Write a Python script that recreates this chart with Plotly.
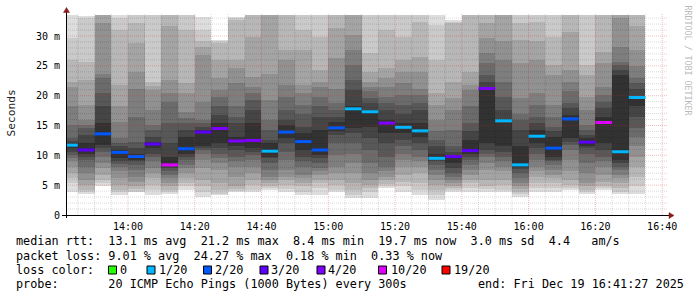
import plotly.graph_objects as go
import pandas as pd

# ---------------- data ----------------
sample_end = pd.date_range("2025-12-19 13:45:00", periods=35, freq="5min")
x_range = ["2025-12-19 13:41:27", "2025-12-19 16:41:27"]

median_ms = [11.7, 10.9, 13.6, 10.5, 9.8, 11.9, 8.4, 11.1, 13.9, 14.5,
             12.4, 12.5, 10.7, 13.9, 12.3, 10.9, 14.6, 17.8, 17.3, 15.4,
             14.7, 14.1, 9.5, 9.8, 10.8, 21.2, 15.8, 8.4, 13.2, 11.2,
             16.1, 12.2, 15.5, 10.6, 19.7]

loss_count = [1, 3, 2, 2, 2, 3, 10, 2, 3, 4,
              4, 4, 1, 2, 2, 2, 2, 1, 1, 4,
              1, 1, 1, 3, 3, 4, 1, 1, 1, 2,
              2, 3, 10, 1, 1]

# 20 sorted ping round-trip times (ms) per 5-minute sample
pings_ms = [
    [3.9, 5.3, 6.2, 7.0, 8.1, 9.0, 9.5, 10.1, 10.6, 11.2, 11.9, 12.4, 12.9, 15.1, 18.2, 21.5, 22.3, 26.0, 29.6, 40],
    [3.6, 3.9, 4.2, 5.0, 5.9, 7.0, 8.1, 9.2, 9.8, 10.2, 12.0, 13.4, 14.5, 15.1, 15.9, 18.4, 22.6, 25.7, 33.0, 33.3],
    [4.8, 5.3, 5.9, 6.7, 7.8, 8.7, 9.8, 10.6, 11.2, 11.7, 15.4, 18.2, 20.4, 22.9, 23.7, 32.1, 36, 38, 40, 42],
    [3.4, 3.8, 4.2, 5.0, 6.2, 7.3, 8.1, 8.5, 9.0, 9.5, 10.9, 11.5, 12.0, 12.9, 15.6, 18.2, 21.8, 31.0, 33.0, 40],
    [3.8, 3.9, 4.3, 4.8, 5.6, 6.4, 7.5, 8.4, 9.0, 9.3, 10.3, 11.2, 12.3, 16.5, 21.2, 24.0, 28.8, 32.1, 36, 40],
    [3.4, 4.2, 5.0, 6.2, 7.0, 7.8, 9.0, 9.8, 10.3, 11.2, 12.3, 13.1, 14.3, 15.1, 17.6, 20.9, 21.6, 22.3, 38, 40],
    [3.5, 3.8, 4.2, 4.8, 5.3, 6.2, 6.7, 7.3, 7.8, 8.2, 9.8, 12.0, 15.4, 19.0, 20.4, 22.6, 31.6, 38, 40, 42],
    [4.2, 4.8, 5.3, 6.2, 7.0, 7.8, 8.4, 9.2, 9.8, 10.3, 13.1, 14.3, 15.4, 16.2, 17.3, 20.4, 22.1, 31.0, 38, 40],
    [3.1, 3.9, 4.8, 5.9, 7.8, 9.2, 10.3, 10.9, 11.2, 11.5, 14.3, 14.8, 15.4, 15.9, 19.0, 26.8, 28.2, 29.1, 31.0, 33.2],
    [3.4, 3.6, 4.2, 5.3, 7.5, 8.7, 9.5, 10.3, 11.2, 12.0, 15.4, 16.8, 18.2, 19.8, 21.0, 22.9, 26.0, 28.8, 29.1, 29.3],
    [3.9, 4.1, 4.3, 4.8, 6.4, 8.1, 9.0, 9.8, 10.9, 11.5, 13.1, 15.4, 16.5, 18.2, 22.1, 24.6, 26.0, 32.7, 33.0, 33.2],
    [3.8, 4.2, 5.0, 5.9, 7.0, 8.1, 9.2, 10.1, 10.6, 11.2, 15.4, 17.6, 19.3, 20.4, 21.5, 23.2, 29.9, 36, 38, 40],
    [4.2, 4.5, 4.9, 5.3, 5.9, 6.4, 7.5, 8.7, 9.5, 9.8, 12.0, 12.6, 14.3, 15.9, 19.3, 23.7, 36, 38, 40, 42],
    [3.9, 4.3, 5.0, 5.9, 6.4, 7.5, 9.2, 10.6, 12.0, 12.9, 15.1, 15.9, 17.6, 19.8, 21.8, 26.0, 27.7, 38, 40, 42],
    [3.4, 3.9, 4.8, 5.3, 6.2, 6.7, 8.1, 9.0, 9.8, 10.9, 13.7, 14.8, 17.0, 18.4, 20.4, 21.8, 27.7, 31.0, 38, 40],
    [3.4, 4.5, 5.3, 5.9, 6.7, 7.3, 7.8, 8.7, 9.5, 10.1, 14.3, 16.5, 18.2, 19.8, 21.5, 22.3, 24.3, 29.9, 38, 40],
    [3.9, 4.2, 5.0, 5.9, 7.0, 8.1, 10.1, 12.0, 13.4, 14.0, 15.6, 16.5, 17.6, 18.7, 21.2, 26.3, 31.3, 37, 39, 41],
    [2.8, 3.4, 4.2, 5.3, 7.0, 8.7, 10.3, 12.0, 13.7, 14.5, 18.2, 21.0, 22.6, 25.1, 27.7, 30.2, 36, 38, 40, 42],
    [2.8, 3.8, 4.5, 5.0, 5.9, 7.0, 8.7, 10.9, 12.9, 14.8, 17.6, 18.7, 19.6, 20.7, 21.5, 22.3, 24.0, 27.1, 38, 40],
    [4.5, 4.8, 5.2, 5.8, 6.4, 7.3, 8.1, 9.8, 12.0, 13.7, 15.9, 17.6, 18.7, 19.8, 21.5, 22.9, 24.6, 31.0, 38, 40],
    [3.9, 4.8, 5.6, 6.7, 8.1, 9.2, 10.3, 11.5, 12.6, 13.7, 15.4, 17.0, 18.4, 20.1, 22.1, 24.0, 26.0, 29.9, 38, 40],
    [3.4, 4.2, 5.3, 7.0, 8.1, 9.0, 9.8, 10.9, 12.0, 13.1, 15.4, 17.6, 18.7, 20.1, 21.2, 24.0, 26.5, 32.4, 38, 40],
    [2.5, 3.4, 4.2, 5.0, 5.9, 6.7, 7.5, 8.4, 9.0, 9.3, 10.3, 11.5, 12.6, 14.0, 15.9, 18.4, 20.4, 26.0, 31.8, 38],
    [3.9, 4.2, 4.5, 4.9, 5.3, 5.9, 6.4, 7.0, 7.8, 8.7, 9.9, 10.6, 11.5, 14.3, 17.6, 19.6, 22.3, 32.1, 32.4, 32.7],
    [3.9, 4.5, 5.3, 5.9, 6.7, 7.5, 8.4, 9.2, 9.8, 10.3, 12.6, 14.0, 15.4, 18.2, 21.0, 21.8, 24.0, 38, 40, 42],
    [3.9, 4.3, 4.8, 5.9, 7.5, 8.7, 9.8, 10.3, 10.9, 12.0, 21.5, 22.3, 23.5, 25.4, 27.1, 29.6, 32.1, 38, 40, 42],
    [3.8, 4.2, 5.0, 5.9, 7.3, 8.1, 9.0, 9.8, 10.6, 11.5, 15.4, 17.6, 19.8, 22.3, 26.0, 29.1, 37, 39, 41, 43],
    [3.1, 3.5, 3.9, 4.3, 4.8, 5.3, 6.2, 7.0, 7.7, 8.1, 11.5, 14.3, 15.9, 17.0, 19.6, 25.4, 29.3, 32.1, 38, 40],
    [3.8, 4.5, 5.3, 6.4, 7.3, 8.1, 9.2, 10.3, 11.2, 12.0, 14.3, 15.4, 16.5, 18.4, 20.4, 26.0, 29.1, 32.4, 38, 40],
    [3.9, 4.5, 5.3, 6.2, 6.7, 7.5, 8.4, 9.0, 9.3, 9.8, 13.1, 14.0, 14.8, 16.5, 18.4, 23.5, 25.1, 29.9, 38, 40],
    [4.2, 4.5, 5.0, 5.9, 7.3, 9.2, 10.9, 11.7, 12.3, 12.9, 16.8, 17.9, 18.7, 20.7, 22.3, 24.3, 30.7, 38, 40, 42],
    [3.5, 3.8, 4.2, 4.8, 5.3, 7.0, 8.7, 10.3, 11.2, 11.6, 12.9, 13.4, 14.3, 15.1, 17.6, 19.8, 23.5, 25.1, 38, 40],
    [4.2, 4.5, 4.9, 5.6, 6.7, 8.1, 9.0, 9.8, 10.9, 12.0, 16.5, 17.9, 19.0, 20.1, 21.5, 25.4, 27.4, 38, 40, 42],
    [3.6, 3.9, 4.5, 5.3, 6.2, 6.7, 7.5, 8.1, 8.7, 9.2, 23.5, 24.3, 25.1, 25.7, 28.2, 33.0, 37, 39, 41, 43],
    [3.6, 4.8, 6.4, 8.1, 9.8, 11.5, 13.1, 14.5, 16.5, 18.2, 19.6, 21.2, 22.1, 22.9, 24.9, 27.7, 31.6, 38, 40, 42],
]

loss_levels = [0, 1, 2, 3, 4, 10, 19]
loss_colors = ["#26ff00", "#00b8ff", "#0059ff", "#5e00ff", "#7e00ff", "#dd00ff", "#ff0000"]
loss_labels = ["0", "1/20", "2/20", "3/20", "4/20", "10/20", "19/20"]

y_tick_vals = [0, 5, 10, 15, 20, 25, 30]
y_tick_text = ["0", "5 m", "10 m", "15 m", "20 m", "25 m", "30 m"]
y_max = 33.52

line_rtt = "median rtt:  13.1 ms avg  21.2 ms max  8.4 ms min  19.7 ms now  3.0 ms sd  4.4   am/s"
line_loss = "packet loss: 9.01 % avg  24.27 % max  0.18 % min  0.33 % now"
line_probe = "probe:       20 ICMP Echo Pings (1000 Bytes) every 300s"
line_end = "end: Fri Dec 19 16:41:27 2025"

# ---------------- geometry ----------------
W, H = 697, 297
L, R, T, B = 66, 667, 15, 215
PW, PH = R - L, B - T
MONO = "DejaVu Sans Mono"


def px(xp):
    return (xp - L) / PW


def py(yp):
    return (B - yp) / PH


def nb(s):
    return s.replace(" ", "\u00a0")


step = pd.Timedelta(minutes=5)
centers = sample_end - step / 2

fig = go.Figure()

# smoke: band i spans ping i .. ping (21-i), darker toward the middle
half = 10
for i in range(half):
    ibot = i + 1
    g = int(190 / half * (half - ibot)) + 50
    fig.add_bar(
        x=centers,
        base=[col[i] for col in pings_ms],
        y=[col[19 - i] - col[i] for col in pings_ms],
        width=300000,
        marker=dict(color=f"rgb({g},{g},{g})", line=dict(width=0)),
        hoverinfo="skip",
        showlegend=False,
    )

# median lines colored by packet loss
def loss_index(n):
    for k, lv in enumerate(loss_levels):
        if n <= lv:
            return k
    return len(loss_levels) - 1


for k, color in enumerate(loss_colors):
    xs, ys = [], []
    for t, m, n in zip(sample_end, median_ms, loss_count):
        if loss_index(n) == k:
            xs += [(t - step).strftime("%Y-%m-%d %H:%M:%S"), t.strftime("%Y-%m-%d %H:%M:%S"), None]
            ys += [m, m, None]
    if xs:
        fig.add_scatter(x=xs, y=ys, mode="lines", line=dict(color=color, width=3),
                        hoverinfo="skip", showlegend=False)

MAJOR_C = "rgba(210,40,40,0.30)"
MINOR_C = "rgba(0,0,0,0.15)"
shapes = []
# horizontal grid
for v in range(1, int(y_max) + 1):
    major = v % 5 == 0
    shapes.append(dict(type="line", xref="paper", yref="y", x0=0, x1=1, y0=v, y1=v, layer="above",
                       line=dict(color=MAJOR_C if major else MINOR_C, width=1, dash="1px,1px")))
# vertical grid
grid_t = pd.date_range("2025-12-19 13:45:00", "2025-12-19 16:40:00", freq="5min")
for t in grid_t:
    major = t.minute % 20 == 0
    shapes.append(dict(type="line", xref="x", yref="paper", x0=t, x1=t, y0=0, y1=1.01, layer="above",
                       line=dict(color=MAJOR_C if major else MINOR_C, width=1, dash="1px,1px")))
# axes lines and arrows
shapes.append(dict(type="line", xref="paper", yref="paper", x0=px(62), x1=px(670), y0=py(215.5), y1=py(215.5),
                   layer="above", line=dict(color="black", width=1)))
shapes.append(dict(type="line", xref="paper", yref="paper", x0=px(66.5), x1=px(66.5), y0=py(218), y1=py(12),
                   layer="above", line=dict(color="black", width=1)))
arrow_c = "#8b1a1a"
shapes.append(dict(type="path", xref="paper", yref="paper", layer="above",
                   path=f"M {px(674)},{py(215.5)} L {px(669)},{py(212.5)} L {px(669)},{py(218.5)} Z",
                   fillcolor=arrow_c, line=dict(color=arrow_c, width=0.5)))
shapes.append(dict(type="path", xref="paper", yref="paper", layer="above",
                   path=f"M {px(66.5)},{py(7.5)} L {px(63.5)},{py(12.5)} L {px(69.5)},{py(12.5)} Z",
                   fillcolor=arrow_c, line=dict(color=arrow_c, width=0.5)))

annotations = []


def text(xp, yp, s, size=11.8, color="#000", anchor="left", angle=0, family=MONO):
    annotations.append(dict(x=px(xp), y=py(yp), xref="paper", yref="paper", text=nb(s), showarrow=False,
                            xanchor=anchor, yanchor="middle", textangle=angle, borderpad=0, borderwidth=0,
                            font=dict(family=family, size=size, color=color)))


text(15.5, 241, line_rtt)
text(15.5, 256, line_loss)
text(15.5, 270, "loss color:")
text(15.5, 284, line_probe)
text(477.5, 284, line_end)

box_x = [108.5, 147, 203.5, 260, 317, 378.5, 442]
lab_x = [120, 158.5, 214.5, 271, 327.5, 390.5, 454]
for bx, lx, c, lab in zip(box_x, lab_x, loss_colors, loss_labels):
    shapes.append(dict(type="rect", xref="paper", yref="paper", x0=px(bx), x1=px(bx + 8),
                       y0=py(266), y1=py(274), fillcolor=c, line=dict(color="black", width=1), layer="above"))
    text(lx, 270, lab)

# y title and watermark
text(10.5, 113, "Seconds", size=11.2, color="#222", anchor="center", angle=-90)
text(687.5, 60, "RRDTOOL / TOBI OETIKER", size=8.3, color="#bbbbbb", anchor="center", angle=90)

fig.update_layout(
    width=W, height=H,
    margin=dict(l=L, r=W - R, t=T, b=H - B, pad=0),
    paper_bgcolor="white", plot_bgcolor="white",
    barmode="overlay", bargap=0, showlegend=False,
    font=dict(family=MONO, size=10, color="#000"),
    shapes=shapes, annotations=annotations,
    xaxis=dict(type="date", range=x_range, showgrid=False, zeroline=False, showline=False,
               tick0="2025-12-19 14:00:00", dtick=1200000, tickformat="%H:%M",
               ticks="outside", ticklen=2, tickcolor="rgba(0,0,0,0)",
               tickfont=dict(family=MONO, size=10, color="#000")),
    yaxis=dict(range=[0, y_max], showgrid=False, zeroline=False, showline=False,
               tickmode="array", tickvals=y_tick_vals, ticktext=y_tick_text,
               ticks="outside", ticklen=3, tickcolor="rgba(0,0,0,0)",
               tickfont=dict(family=MONO, size=10, color="#000")),
)

fig.write_html("out.html")
